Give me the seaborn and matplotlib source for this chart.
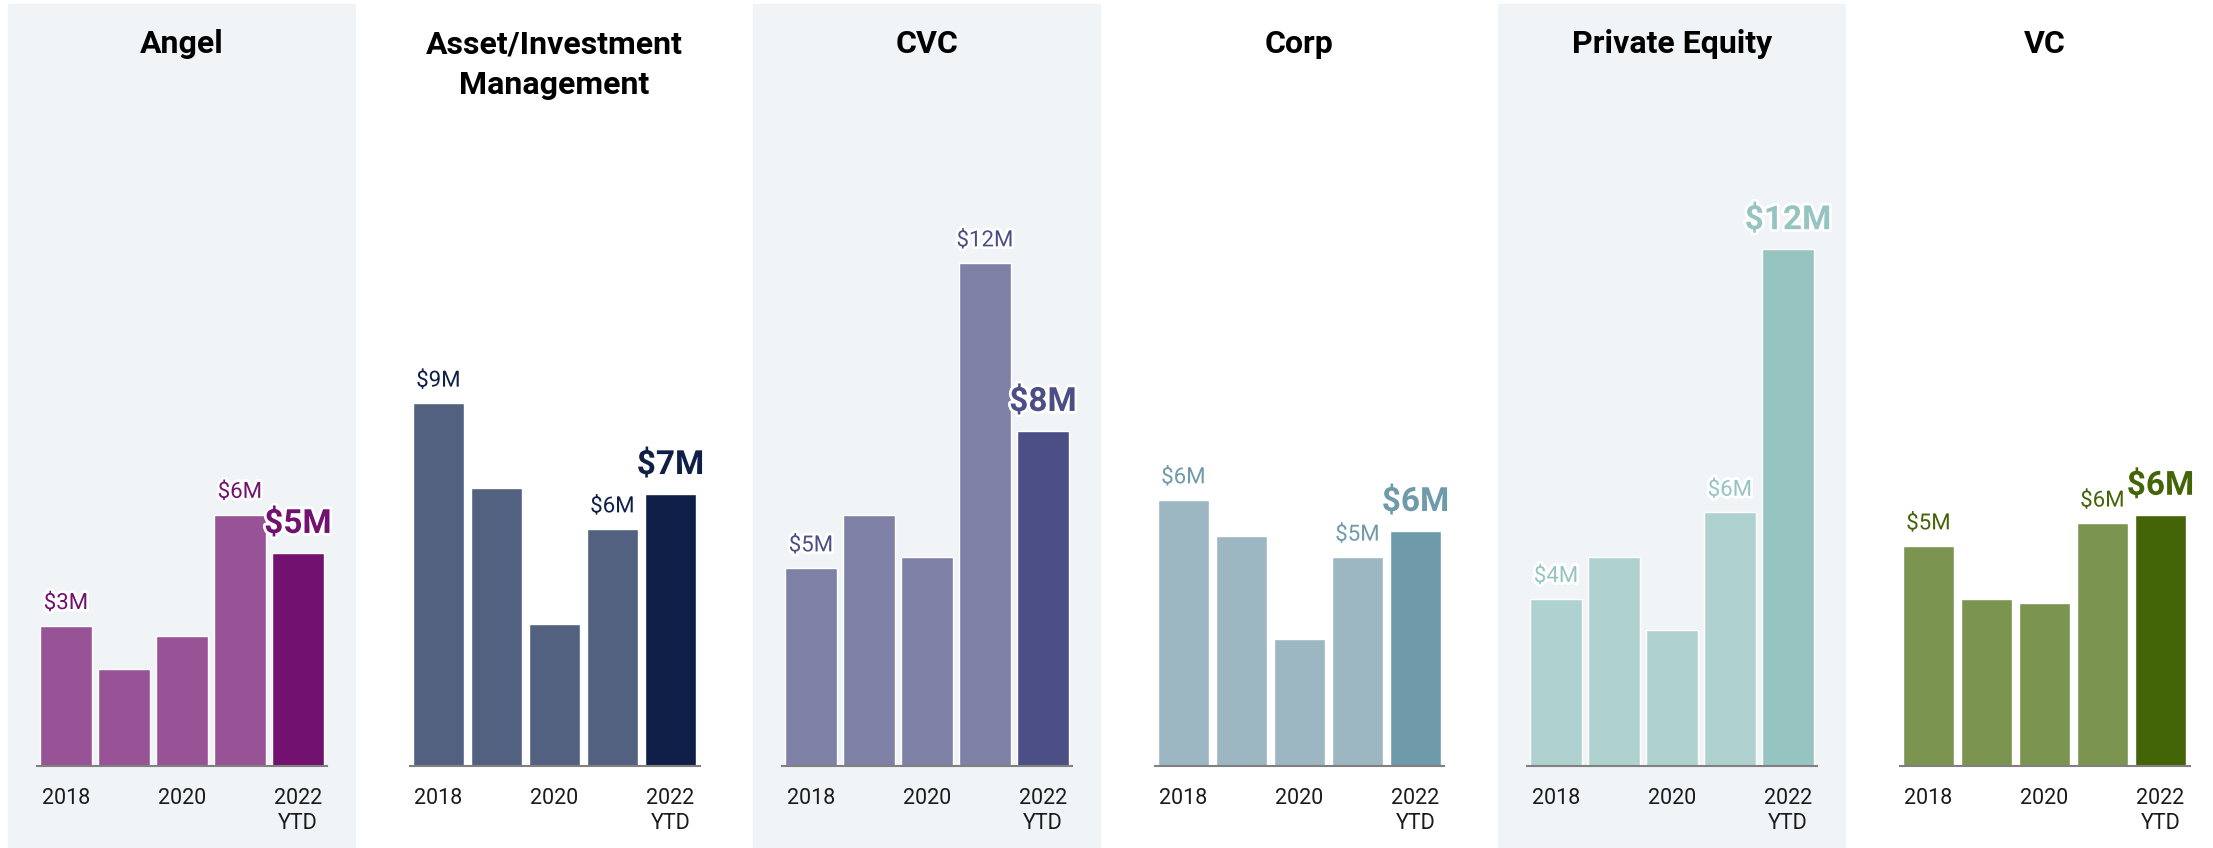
import matplotlib
matplotlib.use("Agg")
import matplotlib.pyplot as plt
import matplotlib.patheffects as pe
from matplotlib.patches import Rectangle
import seaborn as sns
import pandas as pd

# median deal size ($M) by investor type
years = ["2018", "2019", "2020", "2021", "2022\nYTD"]
tick_years = ["2018", "", "2020", "", "2022\nYTD"]

angel = [3.38, 2.33, 3.13, 6.06, 5.13]
asset_mgmt = [8.74, 6.70, 3.41, 5.71, 6.55]
cvc = [4.77, 6.05, 5.03, 12.12, 8.07]
corp = [6.41, 5.54, 3.06, 5.03, 5.66]
private_equity = [4.03, 5.03, 3.27, 6.11, 12.45]
vc = [5.30, 4.03, 3.92, 5.85, 6.05]

titles = ["Angel", "Asset/Investment\nManagement", "CVC", "Corp", "Private Equity", "VC"]
series = [angel, asset_mgmt, cvc, corp, private_equity, vc]
light_colors = ["#985396", "#536180", "#7e80a6", "#9cb6c2", "#afd1d0", "#7b9450"]
dark_colors = ["#731170", "#0f1f48", "#4c4f85", "#6e9aaa", "#95c4c1", "#436508"]

sns.set_style("white")
plt.rcParams["font.family"] = ["Roboto", "DejaVu Sans"]

W, H = 2213, 848
fig = plt.figure(figsize=(W / 100, H / 100), dpi=100)

def fx(px):
    return px / W

def fy(px):
    # px measured from top of the image
    return 1 - px / H

pitch = 372.5
for i, (title, vals) in enumerate(zip(titles, series)):
    # shaded background on every other panel
    if i % 2 == 0:
        fig.patches.append(Rectangle((fx(8 + pitch * i), 0), fx(347), fy(4),
                                     transform=fig.transFigure, color="#f0f4f7",
                                     zorder=-10))

    left = 37 + pitch * i
    ax = fig.add_axes([fx(left), fy(766), fx(290), (766 - 185) / H])
    ax.set_facecolor("none")

    df = pd.DataFrame({"year": years, "value": vals})
    pal = [light_colors[i]] * 4 + [dark_colors[i]]
    sns.barplot(data=df, x="year", y="value", hue="year", palette=pal,
                saturation=1, width=0.88, legend=False, ax=ax)

    ax.set_xlim(-0.5, 4.5)
    ax.set_ylim(0, 14)
    ax.set_xlabel("")
    ax.set_ylabel("")
    ax.set_yticks([])
    ax.set_xticks(range(5))
    ax.set_xticklabels(tick_years, fontsize=15.5, color="#1a1a1a", linespacing=1.25)
    ax.tick_params(axis="x", length=0, pad=15.5)
    for s in ["top", "left", "right"]:
        ax.spines[s].set_visible(False)
    ax.spines["bottom"].set_color("#808080")
    ax.spines["bottom"].set_linewidth(1.5)

    halo = [pe.withStroke(linewidth=4, foreground="white")]
    for j in [0, 3]:
        ax.annotate(f"${round(vals[j])}M", (j, vals[j]), xytext=(0, 12),
                    textcoords="offset points", ha="center", va="baseline",
                    fontsize=16, color=dark_colors[i], path_effects=halo)
    ax.annotate(f"${round(vals[4])}M", (4, vals[4]), xytext=(0, 14.5),
                textcoords="offset points", ha="center", va="baseline",
                fontsize=24, fontweight="bold", color=dark_colors[i],
                path_effects=halo)

    fig.text(fx(left + 145), fy(29), title, ha="center", va="top",
             fontsize=23, fontweight="bold", color="black", linespacing=1.45)

fig.savefig("out.png", dpi=100)
